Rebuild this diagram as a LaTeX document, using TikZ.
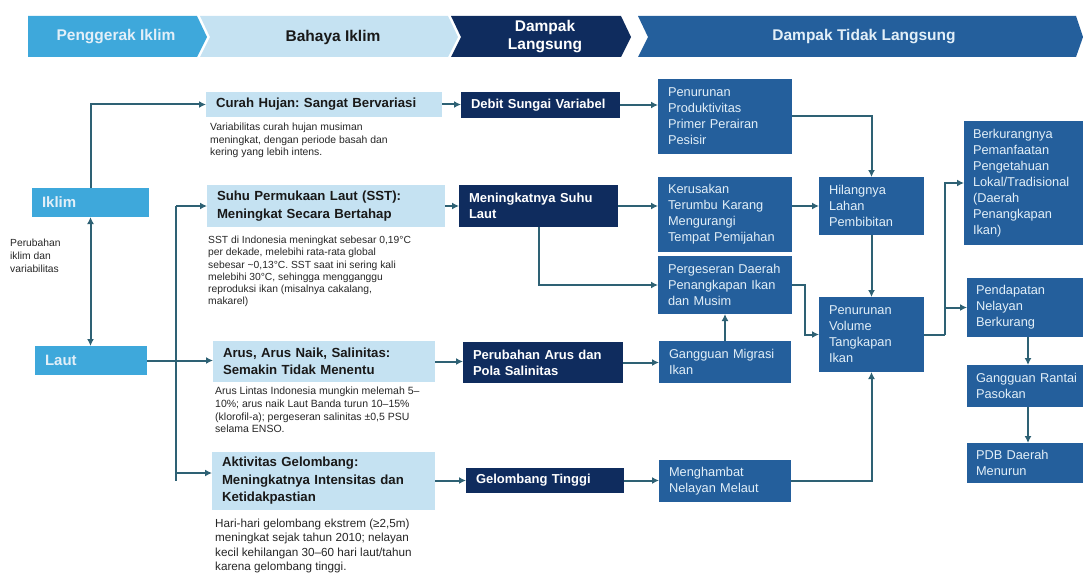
\documentclass[tikz,border=0pt]{standalone}
\usepackage{fontspec}
\setmainfont{Liberation Sans}
\usetikzlibrary{arrows.meta}

\definecolor{drvblue}{HTML}{3EA8DB}
\definecolor{hazblue}{HTML}{C5E2F2}
\definecolor{dirnavy}{HTML}{0F2C5E}
\definecolor{indblue}{HTML}{245F9C}
\definecolor{linkcol}{HTML}{2E6174}
\definecolor{paletxt}{HTML}{E2EFF8}

\begin{document}
\frenchspacing
\begin{tikzpicture}[x=1pt,y=-1pt,
  boxbase/.style={anchor=north west,inner ysep=2pt,outer sep=0pt,align=left},
  drv/.style={boxbase,fill=drvblue,text=paletxt,inner xsep=10pt,font=\fontsize{15}{18}\selectfont\bfseries},
  haz/.style={boxbase,fill=hazblue,text=black!90,inner xsep=10pt,font=\fontsize{13.2}{17.5}\selectfont\bfseries},
  dir/.style={boxbase,fill=dirnavy,text=white,inner xsep=10pt,font=\fontsize{13}{16}\selectfont\bfseries},
  ind/.style={boxbase,fill=indblue,text=paletxt,inner xsep=10pt,font=\fontsize{12.8}{16}\selectfont},
  note/.style={anchor=north west,inner sep=0pt,align=left,text=black!85},
  hdr/.style={font=\fontsize{15.5}{18}\selectfont\bfseries,align=center},
  link/.style={draw=linkcol,line width=2pt},
  conn/.style={link,-{Latex[length=7pt,width=7pt]}}
]
\useasboundingbox (0,0) rectangle (1083,575);

% Header
\fill[drvblue] (28,16) -- (197,16) -- (207,37) -- (197,57) -- (28,57) -- cycle;
\fill[hazblue] (200,16) -- (448,16) -- (458,37) -- (448,57) -- (200,57) -- (210,37) -- cycle;
\fill[dirnavy] (451,16) -- (621,16) -- (631,37) -- (621,57) -- (451,57) -- (461,37) -- cycle;
\fill[indblue] (638,16) -- (1076,16) -- (1083,37) -- (1076,57) -- (638,57) -- (648,37) -- cycle;
\node[hdr,text=paletxt] (hdrv) at (116,37) {Penggerak Iklim};
\node[hdr,text=black!90] (hhaz) at (333,37) {Bahaya Iklim};
\node[hdr,text=white] (hdir) at (545,37) {Dampak\\Langsung};
\node[hdr,text=paletxt] (hind) at (864,37) {Dampak Tidak Langsung};

% Drivers
\node[drv,text width=97pt,minimum height=29pt] (iklim) at (32,188) {Iklim};
\node[drv,text width=92pt,minimum height=29pt] (laut) at (35,346) {Laut};
\node[note,font=\fontsize{10.3}{13}\selectfont] (perubahan) at (10,239) {Perubahan\\iklim dan\\variabilitas};

% Hazards
\node[haz,text width=216pt,minimum height=25pt] (curah) at (206,92) {Curah Hujan: Sangat Bervariasi};
\node[note,font=\fontsize{10.4}{12.5}\selectfont] (curahtxt) at (210,123) {Variabilitas curah hujan musiman\\meningkat, dengan periode basah dan\\kering yang lebih intens.};
\node[haz,text width=218pt,minimum height=42pt] (sst) at (207,185) {Suhu Permukaan Laut (SST):\\Meningkat Secara Bertahap};
\node[note,font=\fontsize{10.3}{12.2}\selectfont] (ssttxt) at (208,236) {SST di Indonesia meningkat sebesar 0,19°C\\per dekade, melebihi rata-rata global\\sebesar \textasciitilde0,13°C. SST saat ini sering kali\\melebihi 30°C, sehingga mengganggu\\reproduksi ikan (misalnya cakalang,\\makarel)};
\node[haz,text width=202pt,minimum height=41pt] (arus) at (213,341) {Arus, Arus Naik, Salinitas:\\Semakin Tidak Menentu};
\node[note,font=\fontsize{10.5}{12.7}\selectfont] (arustxt) at (215,387) {Arus Lintas Indonesia mungkin melemah 5--\\10\%; arus naik Laut Banda turun 10--15\%\\(klorofil-a); pergeseran salinitas ±0,5 PSU\\selama ENSO.};
\node[haz,text width=203pt,minimum height=58pt] (akt) at (212,452) {Aktivitas Gelombang:\\Meningkatnya Intensitas dan\\Ketidakpastian};
\node[note,font=\fontsize{11.7}{14.3}\selectfont] (akttxt) at (215,519) {Hari-hari gelombang ekstrem (≥2,5m)\\meningkat sejak tahun 2010; nelayan\\kecil kehilangan 30--60 hari laut/tahun\\karena gelombang tinggi.};

% Direct impacts
\node[dir,text width=139pt,minimum height=26pt] (debit) at (461,92) {Debit Sungai Variabel};
\node[dir,text width=139pt,minimum height=42pt] (suhu) at (459,185) {Meningkatnya Suhu\\Laut};
\node[dir,text width=140pt,minimum height=41pt] (pola) at (463,342) {Perubahan Arus dan\\Pola Salinitas};
\node[dir,text width=138pt,minimum height=25pt] (gtinggi) at (466,468) {Gelombang Tinggi};

% Indirect impacts
\node[ind,text width=114pt,minimum height=75pt] (prod) at (658,79) {Penurunan\\Produktivitas\\Primer Perairan\\Pesisir};
\node[ind,text width=114pt,minimum height=75pt] (karang) at (658,177) {Kerusakan\\Terumbu Karang\\Mengurangi\\Tempat Pemijahan};
\node[ind,text width=114pt,minimum height=58pt] (geser) at (658,256) {Pergeseran Daerah\\Penangkapan Ikan\\dan Musim};
\node[ind,text width=112pt,minimum height=42pt] (migrasi) at (659,341) {Gangguan Migrasi\\Ikan};
\node[ind,text width=112pt,minimum height=42pt] (hambat) at (659,460) {Menghambat\\Nelayan Melaut};
\node[ind,text width=85pt,minimum height=58pt] (lahan) at (819,177) {Hilangnya\\Lahan\\Pembibitan};
\node[ind,text width=85pt,minimum height=75pt] (volume) at (819,297) {Penurunan\\Volume\\Tangkapan\\Ikan};
\node[ind,inner xsep=9pt,text width=106pt,minimum height=124pt] (lokal) at (964,121) {Berkurangnya\\Pemanfaatan\\Pengetahuan\\Lokal/Tradisional\\(Daerah\\Penangkapan\\Ikan)};
\node[ind,inner xsep=9pt,text width=106pt,minimum height=59pt] (pendapatan) at (967,278) {Pendapatan\\Nelayan\\Berkurang};
\node[ind,inner xsep=9pt,text width=106pt,minimum height=42pt] (rantai) at (967,365) {Gangguan Rantai\\Pasokan};
\node[ind,inner xsep=9pt,text width=106pt,minimum height=40pt] (pdb) at (967,443) {PDB Daerah\\Menurun};

% Drivers to hazards
\draw[conn] (iklim.north) |- (curah.west);
\draw[link,{Latex[length=7pt,width=7pt]}-{Latex[length=7pt,width=7pt]}] (iklim.south) -- (iklim.south |- laut.north);
\coordinate (lj) at (176,361);
\draw[conn] (laut.east) -- (laut.east -| arus.west);
\draw[link] (lj |- sst.west) -- (lj |- akt.west);
\draw[conn] (lj |- sst.west) -- (sst.west);
\draw[conn] ([yshift=8pt]akt.west -| lj) -- ([yshift=8pt]akt.west);

% Hazards to direct impacts
\draw[conn] (curah.east) -- (curah.east -| debit.west);
\draw[conn] (sst.east) -- (sst.east -| suhu.west);
\draw[conn] (arus.east) -- (arus.east -| pola.west);
\draw[conn] (akt.east |- gtinggi.west) -- (gtinggi.west);

% Direct to indirect
\draw[conn] (debit.east) -- (debit.east -| prod.west);
\draw[conn] (suhu.east) -- (suhu.east -| karang.west);
\draw[conn] (suhu.south) |- (geser.west);
\draw[conn] (pola.east) -- (pola.east -| migrasi.west);
\draw[conn] (gtinggi.east) -- (gtinggi.east -| hambat.west);
\draw[conn] (migrasi.north) -- (migrasi.north |- geser.south);

% Indirect chain
\draw[conn] (prod.east) -| (lahan.north);
\draw[conn] (karang.east |- lahan.west) -- (lahan.west);
\draw[conn] (lahan.south) -- (volume.north);
\draw[conn] (geser.east) -- ++(13,0) |- (volume.west);
\draw[conn] (hambat.east) -| (volume.south);
\coordinate (vj) at ([xshift=21pt]volume.east);
\draw[link] (volume.east) -- (vj);
\draw[conn] (vj) |- (lokal.west);
\draw[conn] (vj) |- (pendapatan.west);
\draw[conn] (pendapatan.south -| 1028,0) -- (rantai.north -| 1028,0);
\draw[conn] (rantai.south -| 1028,0) -- (pdb.north -| 1028,0);

\end{tikzpicture}
\end{document}
